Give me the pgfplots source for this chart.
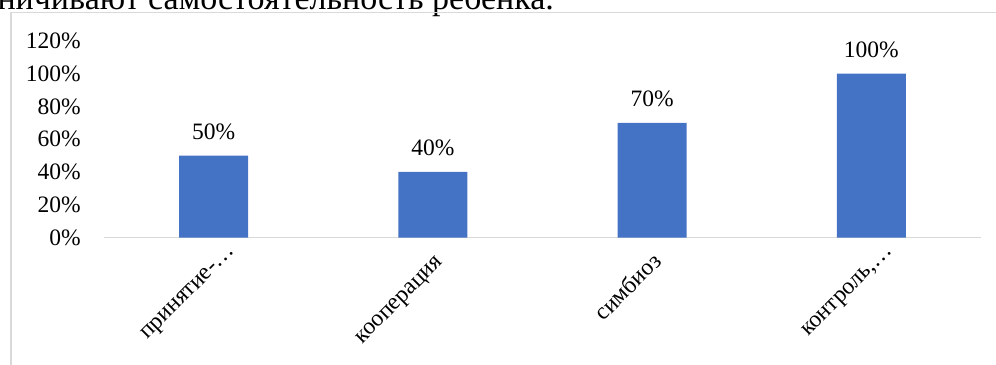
\documentclass[border=0pt]{standalone}
\usepackage{pgfplots}
\pgfplotsset{compat=1.18}
\usepackage{fontspec}
\setmainfont{Liberation Serif}
\definecolor{barblue}{HTML}{4472C4}
\definecolor{framegray}{HTML}{D9D9D9}
\newcommand{\chartfont}{\fontsize{23.5bp}{28bp}\selectfont}
\begin{document}
\begin{tikzpicture}
\useasboundingbox (0bp,0bp) rectangle (996bp,365bp);
\clip (0bp,0bp) rectangle (996bp,365bp);
% last line of the text above the chart
\node[anchor=base west, inner sep=0pt, font=\fontsize{34bp}{40bp}\selectfont]
  at (148bp,355bp) {\llap{ограничивают }самостоятельность ребенка.};
% chart area frame
\draw[framegray, line width=1.5bp] (11bp,0bp) -- (11bp,352.5bp) -- (998bp,352.5bp);
\begin{axis}[
  at={(104bp,127.5bp)}, anchor=south west,
  scale only axis, width=877bp, height=196.6bp,
  xmin=-0.5, xmax=3.5, ymin=0, ymax=120,
  ybar, bar width=69bp,
  axis x line=bottom, axis y line=left,
  x axis line style={framegray, line width=1.5bp, -},
  y axis line style={draw=none},
  major tick length=0pt,
  xtick={0,1,2,3},
  xticklabels={принятие-…, кооперация\hspace*{16bp}, симбиоз\hspace*{16bp}, {контроль,…}},
  xticklabel style={xshift=22bp, yshift=-14bp, rotate=45, anchor=base east, inner sep=0pt, font=\chartfont},
  ytick={0,20,...,120},
  yticklabel={\pgfmathprintnumber{\tick}\%},
  yticklabel style={anchor=east, inner sep=0pt, xshift=-23bp, font=\chartfont},
  /pgf/number format/assume math mode=true,
  nodes near coords={\pgfmathprintnumber{\pgfplotspointmeta}\%},
  nodes near coords style={anchor=base, inner sep=0pt, yshift=16bp, font=\chartfont, text=black},
]
\addplot[fill=barblue, draw=none] coordinates {(0,50) (1,40) (2,70) (3,100)};
\end{axis}
\end{tikzpicture}
\end{document}
